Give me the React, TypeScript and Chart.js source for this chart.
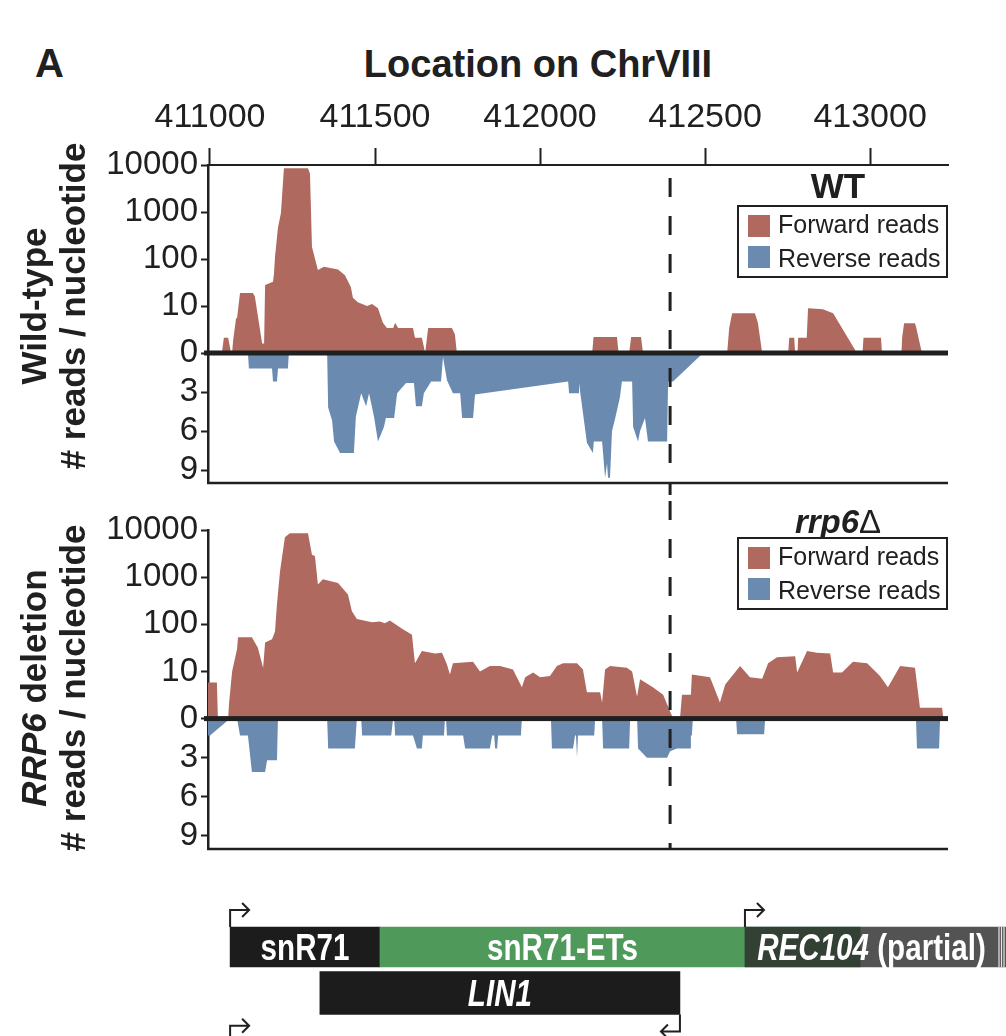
import { useEffect, useRef } from "react";
import Chart from "chart.js/auto";

// 図A: ChrVIII 411000-413236 のリード分布（上: 順方向 log 表示, 下: 逆方向 linear 表示）
const FONT = "'Liberation Sans', Arial, Helvetica, sans-serif";
const INK = "#202020";
const RED = "#b0695f";
const BLUE = "#6a8ab0";

const X_MIN = 410994;
const X_MAX = 413236;
const X_MAX_TRACK = 413412;
const X_TICKS = [411000, 411500, 412000, 412500, 413000];
const LOG_TICKS = [1, 10, 100, 1000, 10000];
const REV_TICKS = [3, 6, 9];
const DASH_POS = 412394;
const LEGEND_LABELS = ["Forward reads", "Reverse reads"];

type Pair = [number, number];

// [位置(bp), reads / nucleotide]
const WT_FWD: Pair[] = [
  [410994, 0], [411036, 0], [411042, 2.1], [411055, 2.1], [411064, 0], [411067, 0], [411070, 1.8],
  [411079, 5.5], [411082, 5.5], [411091, 19], [411130, 19], [411136, 16], [411158, 1.6], [411164, 1.6],
  [411167, 28], [411191, 33], [411194, 50], [411197, 110], [411206, 470], [411215, 950], [411224, 8500],
  [411297, 8500], [411303, 6500], [411309, 180], [411327, 58], [411345, 68], [411388, 60], [411409, 45],
  [411427, 25], [411433, 15], [411448, 12], [411476, 10], [411491, 11], [411509, 9], [411524, 4.4],
  [411536, 3.4], [411555, 3.4], [411561, 4.4], [411570, 3.4], [411615, 3.4], [411621, 2.1], [411642, 2.1],
  [411652, 1], [411661, 3.4], [411733, 3.4], [411742, 2.5], [411748, 0], [412158, 0], [412162, 2.2],
  [412233, 2.2], [412238, 0], [412270, 0], [412276, 2.2], [412306, 2.2], [412312, 0], [412567, 0],
  [412573, 3.4], [412582, 7], [412651, 7], [412660, 4.4], [412673, 0], [412752, 0], [412755, 2.1],
  [412770, 2.1], [412773, 0], [412780, 0], [412782, 2.1], [412808, 2.1], [412812, 9], [412857, 8.5],
  [412888, 7], [412960, 0], [412977, 0], [412980, 2.1], [413033, 2.1], [413036, 0], [413095, 0],
  [413097, 2.1], [413103, 4.3], [413136, 4.3], [413140, 3.4], [413157, 0], [413236, 0],
];

const WT_REV: Pair[] = [
  [410994, 0], [411115, 0], [411118, 1.2], [411188, 1.2], [411191, 2.2], [411203, 2.2], [411206, 1.2],
  [411236, 1.2], [411239, 0], [411355, 0], [411358, 4.2], [411370, 5.2], [411376, 6.8], [411394, 7.7],
  [411436, 7.7], [411442, 4.9], [411458, 3.1], [411473, 4.1], [411482, 3.1], [411497, 4.9], [411509, 6.8],
  [411527, 5.7], [411533, 5], [411558, 5], [411567, 3.1], [411594, 2.3], [411618, 2.3], [411624, 4.1],
  [411642, 4.1], [411648, 3.1], [411670, 2.2], [411700, 2.2], [411706, 0.3], [411718, 2.1], [411736, 3.1],
  [411758, 3.1], [411764, 5], [411797, 5], [411803, 3.2], [412085, 2.2], [412088, 3.1], [412115, 3.1],
  [412118, 2.3], [412142, 6.9], [412160, 7.7], [412163, 6.8], [412188, 6.8], [412197, 9.6], [412203, 8.5],
  [412206, 9.6], [412212, 9.6], [412218, 6], [412227, 5.1], [412242, 3.4], [412248, 2.2], [412279, 2.2],
  [412282, 5.7], [412297, 6.8], [412303, 6], [412318, 5], [412327, 6.8], [412385, 6.8], [412388, 2.2],
  [412403, 2.2], [412494, 0], [413236, 0],
];

const RRP6_FWD: Pair[] = [
  [410994, 5.8], [411021, 5.8], [411024, 0], [411055, 0], [411058, 2.2], [411067, 10], [411082, 30],
  [411085, 53], [411127, 53], [411145, 32], [411161, 12], [411167, 41], [411188, 48], [411197, 70],
  [411203, 270], [411212, 1300], [411227, 7000], [411242, 8500], [411297, 8500], [411309, 3000],
  [411318, 2800], [411327, 700], [411342, 900], [411388, 750], [411418, 430], [411430, 190], [411445, 130],
  [411491, 110], [411515, 115], [411530, 105], [411545, 120], [411582, 80], [411612, 60], [411621, 15],
  [411642, 27], [411682, 24], [411703, 25], [411718, 14], [411727, 8.6], [411736, 15], [411797, 16],
  [411818, 10], [411848, 13], [411879, 13], [411918, 11], [411945, 4.6], [411955, 7.5], [411979, 9.5],
  [412000, 7.5], [412030, 8], [412051, 13], [412070, 15], [412112, 15], [412130, 11], [412142, 3.6],
  [412182, 3.6], [412188, 2.2], [412197, 11], [412212, 13], [412263, 12], [412279, 10], [412294, 2.9],
  [412303, 6.8], [412342, 4.6], [412373, 3.2], [412403, 1], [412424, 1], [412430, 3.2], [412457, 3.2],
  [412460, 8.6], [412515, 7.5], [412545, 2.2], [412561, 5.3], [412606, 13], [412636, 7.5], [412673, 7],
  [412691, 15], [412718, 20], [412773, 21], [412779, 9.5], [412809, 27], [412839, 25], [412879, 24],
  [412888, 9.5], [412915, 9.5], [412948, 16], [412991, 15], [413030, 8], [413054, 4.6], [413091, 13],
  [413136, 12], [413151, 1.7], [413218, 1.7], [413222, 0], [413236, 0],
];

const RRP6_REV: Pair[] = [
  [410994, 1.3], [411000, 1.3], [411061, 0], [411082, 0], [411091, 1.3], [411115, 1.3], [411127, 4.1],
  [411167, 4.1], [411173, 3.2], [411203, 3.2], [411206, 0], [411355, 0], [411358, 2.3], [411439, 2.3],
  [411445, 0], [411458, 0], [411461, 1.3], [411549, 1.3], [411555, 0], [411558, 0], [411561, 1.3],
  [411615, 1.3], [411627, 2.3], [411642, 2.3], [411645, 1.3], [411709, 1.3], [411712, 0], [411715, 0],
  [411718, 1.3], [411767, 1.3], [411773, 2.3], [411848, 2.3], [411855, 1.3], [411861, 1.3], [411864, 2.3],
  [411870, 2.3], [411873, 1.3], [411942, 1.3], [411945, 0], [412033, 0], [412036, 2.3], [412100, 2.3],
  [412106, 1.3], [412109, 1.3], [412112, 3.0], [412115, 1.3], [412164, 1.3], [412167, 0], [412188, 0],
  [412191, 2.3], [412270, 2.3], [412273, 0], [412294, 0], [412297, 2.3], [412324, 3.0], [412385, 3.0],
  [412394, 2.5], [412415, 2.3], [412455, 2.3], [412457, 1.3], [412460, 1.3], [412463, 0], [412594, 0],
  [412597, 1.2], [412679, 1.2], [412682, 0], [413139, 0], [413142, 2.3], [413209, 2.3], [413212, 0],
  [413236, 0],
];

// 遺伝子アノテーション
const GENE_NAMES = ["snR71", "snR71-ETs", "REC104", "LIN1"];
const GENE_NOTE = ["", "", " (partial)", ""];
const GENE_ITALIC = [false, false, true, true];
const GENE_START = [411061, 411515, 412621, 411333];
const GENE_END = [411515, 412970, X_MAX_TRACK, 412424];
const GENE_ROW = ["r1", "r1", "r1", "r2"];
const GENE_COLOR = ["#1c1c1c", "#4f9a5b", "rgba(45,45,45,0.82)", "#1c1c1c"];
const ROWS = ["r1", "r2"];
const TSS_POS = [411061, 412621, 412424, 411061];
const TSS_STRAND = [1, 1, -1, 1];
const TSS_ROW = [0, 0, 1, 2.55];

Chart.defaults.font.family = FONT;
Chart.defaults.color = INK;

type PanelProps = {
  fwd: Pair[];
  rev: Pair[];
  top: number;
  height: number;
  axisHeight: number;
  padTop: number;
  padBottom: number;
  showAxis: boolean;
  dashFrom: number;
  dashToBottom: boolean;
};

function ReadsPanel({ fwd, rev, top, height, axisHeight, padTop, padBottom, showAxis, dashFrom, dashToBottom }: PanelProps) {
  const ref = useRef<HTMLCanvasElement>(null);

  useEffect(() => {
    const el = ref.current;
    if (!el) return;
    const decor = {
      id: "decor",
      afterDatasetsDraw(chart: any) {
        const { ctx, chartArea: a, scales } = chart;
        const zeroY = scales.yF.bottom;
        ctx.save();
        ctx.fillStyle = INK;
        ctx.fillRect(a.left - 4, zeroY - 2.5, a.right - a.left + 4, 5);
        ctx.fillRect(a.left - 1, a.bottom - 1.25, a.right - a.left + 1, 2.5);
        const dx = scales.x.getPixelForValue(DASH_POS);
        ctx.strokeStyle = INK;
        ctx.lineWidth = 3;
        ctx.setLineDash([19, 19]);
        ctx.beginPath();
        ctx.moveTo(dx, dashFrom);
        ctx.lineTo(dx, dashToBottom ? chart.height : a.bottom);
        ctx.stroke();
        ctx.restore();
      },
    };
    const tickFont = { family: FONT, size: 33 };
    const yCommon = {
      position: "left",
      stack: "reads",
      afterFit: (a: any) => {
        a.width = 208;
        a.paddingTop = 0;
        a.paddingBottom = 0;
      },
      grid: { drawOnChartArea: false, tickLength: 7, tickWidth: 2, tickColor: INK },
      border: { display: true, color: INK, width: 2.5 },
    };
    const chart = new Chart(el, {
      type: "line",
      data: {
        datasets: [
          {
            label: LEGEND_LABELS[0],
            data: fwd.map(([x, y]) => ({ x, y: Math.max(1, y) })),
            yAxisID: "yF",
            backgroundColor: RED,
            borderWidth: 0,
            pointRadius: 0,
            fill: "start",
            tension: 0,
          },
          {
            label: LEGEND_LABELS[1],
            data: rev.map(([x, y]) => ({ x, y })),
            yAxisID: "yR",
            backgroundColor: BLUE,
            borderWidth: 0,
            pointRadius: 0,
            fill: "end",
            tension: 0,
          },
        ],
      },
      options: {
        animation: false,
        responsive: true,
        maintainAspectRatio: false,
        layout: { padding: { top: padTop, bottom: padBottom, left: 0, right: 58 } },
        plugins: { legend: { display: false }, tooltip: { enabled: false } },
        scales: {
          x: {
            type: "linear",
            position: "top",
            display: showAxis,
            min: X_MIN,
            max: X_MAX,
            afterBuildTicks: (a: any) => {
              a.ticks = X_TICKS.map((value) => ({ value }));
            },
            afterFit: (a: any) => {
              a.height = axisHeight;
              a.paddingLeft = 0;
              a.paddingRight = 0;
            },
            ticks: {
              font: { family: FONT, size: 34 },
              color: INK,
              padding: 10,
              maxRotation: 0,
              autoSkip: false,
              callback: (v: any) => String(v),
            },
            grid: { drawOnChartArea: false, tickLength: 17, tickWidth: 2, tickColor: INK },
            border: { display: true, color: INK, width: 2 },
          },
          // 左側スタックは定義の逆順に上から積まれるので、逆方向を先に置く
          yR: {
            ...yCommon,
            type: "linear",
            stackWeight: 130,
            reverse: true,
            min: 0,
            max: 10,
            afterBuildTicks: (a: any) => {
              a.ticks = REV_TICKS.map((value) => ({ value }));
            },
            ticks: { font: tickFont, color: INK, padding: 3, autoSkip: false },
          },
          yF: {
            ...yCommon,
            type: "logarithmic",
            stackWeight: 188,
            min: 1,
            max: 10000,
            afterBuildTicks: (a: any) => {
              a.ticks = LOG_TICKS.map((value) => ({ value }));
            },
            ticks: {
              font: tickFont,
              color: INK,
              padding: 3,
              autoSkip: false,
              callback: (v: any) => (v === 1 ? "0" : String(v)),
            },
          },
        },
      } as any,
      plugins: [decor],
    });
    return () => chart.destroy();
  }, [fwd, rev, axisHeight, padTop, padBottom, showAxis, dashFrom, dashToBottom]);

  return (
    <div style={{ position: "absolute", left: 0, top, width: 1006, height }}>
      <canvas ref={ref} />
    </div>
  );
}

function GeneTrack({ top, height }: { top: number; height: number }) {
  const ref = useRef<HTMLCanvasElement>(null);

  useEffect(() => {
    const el = ref.current;
    if (!el) return;
    const rowGenes = ROWS.map((r) => GENE_NAMES.map((_, i) => i).filter((i) => GENE_ROW[i] === r));
    const thickness = [40, 43];
    const geneDecor = {
      id: "geneDecor",
      afterDatasetsDraw(chart: any) {
        const { ctx, scales } = chart;
        const pos: Record<number, { left: number; right: number; y: number }> = {};
        rowGenes.forEach((genes, d) => {
          const meta = chart.getDatasetMeta(d);
          genes.forEach((g, k) => {
            const p = meta.data[k].getProps(["x", "base", "y"], true);
            pos[g] = { left: Math.min(p.x, p.base), right: Math.max(p.x, p.base), y: p.y };
          });
        });
        ctx.save();
        // partial の右端のストライプ
        GENE_NAMES.forEach((_, g) => {
          if (!GENE_NOTE[g]) return;
          ctx.strokeStyle = "rgba(255,255,255,0.85)";
          ctx.lineWidth = 1.2;
          [2, 4.5, 7].forEach((o) => {
            ctx.beginPath();
            ctx.moveTo(pos[g].right - o, pos[g].y - 20);
            ctx.lineTo(pos[g].right - o, pos[g].y + 20);
            ctx.stroke();
          });
        });
        // ラベル（細身の書体が無いので横方向に縮める）
        const size = 37;
        const squeeze = 0.8;
        ctx.fillStyle = "#ffffff";
        ctx.textBaseline = "alphabetic";
        ctx.textAlign = "left";
        GENE_NAMES.forEach((name, g) => {
          const p = pos[g];
          let right = p.right;
          const next = GENE_NAMES.findIndex(
            (_, h) => h !== g && GENE_ROW[h] === GENE_ROW[g] && GENE_START[h] > GENE_START[g] && GENE_START[h] < GENE_END[g],
          );
          if (next >= 0) right = pos[next].left;
          if (GENE_NOTE[g]) right -= 8;
          const nameFont = `${GENE_ITALIC[g] ? "italic " : ""}bold ${size}px ${FONT}`;
          const noteFont = `bold ${size}px ${FONT}`;
          ctx.font = nameFont;
          const w1 = ctx.measureText(name).width;
          ctx.font = noteFont;
          const w2 = GENE_NOTE[g] ? ctx.measureText(GENE_NOTE[g]).width : 0;
          const start = (p.left + right) / 2 - ((w1 + w2) * squeeze) / 2;
          const base = p.y + size * 0.36;
          ctx.save();
          ctx.translate(start, base);
          ctx.scale(squeeze, 1);
          ctx.font = nameFont;
          ctx.fillText(name, 0, 0);
          if (GENE_NOTE[g]) {
            ctx.font = noteFont;
            ctx.fillText(GENE_NOTE[g], w1, 0);
          }
          ctx.restore();
        });
        // 転写開始点の矢印
        ctx.strokeStyle = INK;
        ctx.lineWidth = 2;
        TSS_POS.forEach((p, i) => {
          const s = TSS_STRAND[i];
          const px = scales.x.getPixelForValue(p);
          const rowY = scales.y.getPixelForValue(TSS_ROW[i]);
          const half = (thickness[Math.min(1, Math.round(TSS_ROW[i]))] ?? 40) / 2;
          const y0 = s > 0 ? rowY - half : rowY + half;
          const y1 = y0 - s * 17;
          const tipX = px + s * 19;
          ctx.beginPath();
          ctx.moveTo(px, y0);
          ctx.lineTo(px, y1);
          ctx.lineTo(tipX, y1);
          ctx.moveTo(tipX - s * 7, y1 - 7);
          ctx.lineTo(tipX, y1);
          ctx.lineTo(tipX - s * 7, y1 + 7);
          ctx.stroke();
        });
        ctx.restore();
      },
    };
    const chart = new Chart(el, {
      type: "bar",
      data: {
        labels: ROWS,
        datasets: rowGenes.map((genes, d) => ({
          data: genes.map((g) => ({ x: [GENE_START[g], GENE_END[g]], y: ROWS[d] })),
          backgroundColor: genes.map((g) => GENE_COLOR[g]),
          barThickness: thickness[d],
          grouped: false,
          borderWidth: 0,
        })),
      },
      options: {
        indexAxis: "y",
        animation: false,
        responsive: true,
        maintainAspectRatio: false,
        layout: { padding: { left: 208, right: 0, top: 54, bottom: 20 } },
        plugins: { legend: { display: false }, tooltip: { enabled: false } },
        scales: {
          x: { type: "linear", min: X_MIN, max: X_MAX_TRACK, display: false },
          y: { type: "category", display: false },
        },
      } as any,
      plugins: [geneDecor],
    });
    return () => chart.destroy();
  }, []);

  return (
    <div style={{ position: "absolute", left: 0, top, width: 1006, height }}>
      <canvas ref={ref} />
    </div>
  );
}

function Legend({ top }: { top: number }) {
  const colors = [RED, BLUE];
  return (
    <div
      style={{
        position: "absolute",
        left: 737,
        top,
        width: 211,
        height: 73,
        border: `2.5px solid ${INK}`,
        boxSizing: "border-box",
        background: "#fff",
      }}
    >
      {LEGEND_LABELS.map((label, i) => (
        <div key={label}>
          <div style={{ position: "absolute", left: 9, top: 8 + i * 31, width: 22, height: 22, background: colors[i] }} />
          <div style={{ position: "absolute", left: 39, top: 5 + i * 34, fontSize: 25, lineHeight: 1, whiteSpace: "nowrap" }}>
            {label}
          </div>
        </div>
      ))}
    </div>
  );
}

function YTitle({ cy, children }: { cy: number; children: any }) {
  return (
    <div
      style={{
        position: "absolute",
        left: 53,
        top: cy,
        transform: "translate(-50%, -50%) rotate(-90deg)",
        whiteSpace: "nowrap",
        textAlign: "center",
        fontSize: 35,
        fontWeight: 700,
        lineHeight: "39px",
      }}
    >
      {children}
    </div>
  );
}

export default function App() {
  return (
    <div
      style={{
        position: "absolute",
        left: 0,
        top: 0,
        width: 1006,
        height: 1036,
        overflow: "hidden",
        background: "#ffffff",
        fontFamily: FONT,
        color: INK,
      }}
    >
      <div style={{ position: "absolute", left: 35, top: 43, fontSize: 40, fontWeight: 700, lineHeight: 1 }}>A</div>
      <div
        style={{
          position: "absolute",
          left: 288,
          top: 45,
          width: 500,
          textAlign: "center",
          fontSize: 38,
          fontWeight: 700,
          lineHeight: 1,
        }}
      >
        Location on ChrVIII
      </div>
      <ReadsPanel
        fwd={WT_FWD}
        rev={WT_REV}
        top={0}
        height={495}
        axisHeight={165}
        padTop={0}
        padBottom={12}
        showAxis={true}
        dashFrom={178}
        dashToBottom={true}
      />
      <ReadsPanel
        fwd={RRP6_FWD}
        rev={RRP6_REV}
        top={495}
        height={365}
        axisHeight={0}
        padTop={35}
        padBottom={11}
        showAxis={false}
        dashFrom={6}
        dashToBottom={false}
      />
      <GeneTrack top={870} height={166} />
      <YTitle cy={306}>
        <div>Wild-type</div>
        <div># reads / nucleotide</div>
      </YTitle>
      <YTitle cy={688}>
        <div>
          <i>RRP6</i> deletion
        </div>
        <div># reads / nucleotide</div>
      </YTitle>
      <div
        style={{ position: "absolute", left: 788, top: 168, width: 100, textAlign: "center", fontSize: 35, fontWeight: 700, lineHeight: 1 }}
      >
        WT
      </div>
      <Legend top={205} />
      <div
        style={{ position: "absolute", left: 763, top: 505, width: 150, textAlign: "center", fontSize: 33, fontWeight: 700, lineHeight: 1 }}
      >
        <i>rrp6</i>
        <span style={{ fontWeight: 400 }}>Δ</span>
      </div>
      <Legend top={537} />
    </div>
  );
}
